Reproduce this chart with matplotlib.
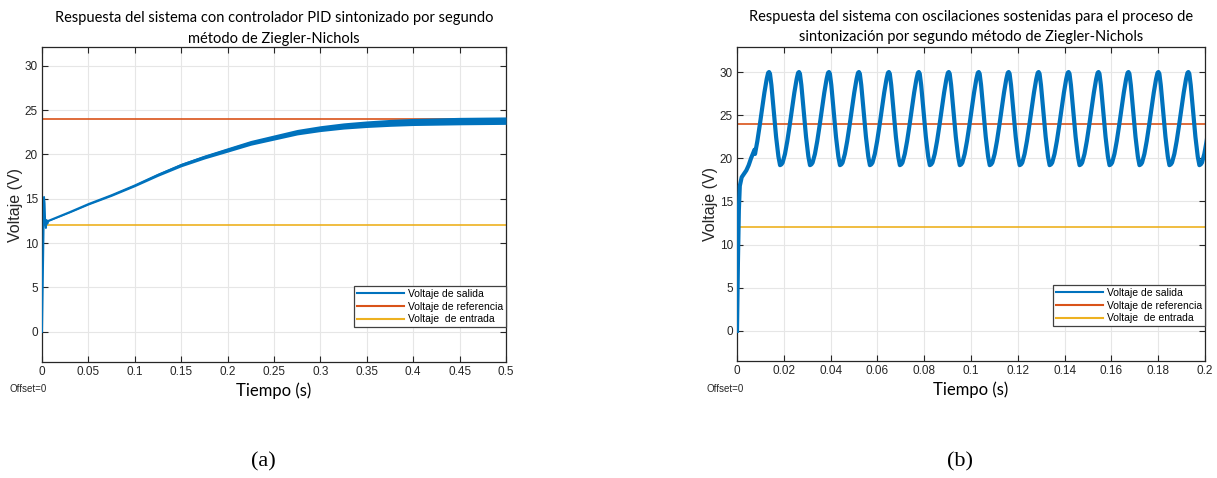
import numpy as np
import matplotlib
matplotlib.use("Agg")
import matplotlib.pyplot as plt

# ---- data ----
# (a) PID response, 0..0.5 s
t_a = [0, 0.0012, 0.0022, 0.0028, 0.0034, 0.0042, 0.0050, 0.0058, 0.0066, 0.03,
       0.05, 0.075, 0.1, 0.125, 0.15, 0.175, 0.2, 0.225, 0.25, 0.275, 0.3,
       0.325, 0.35, 0.375, 0.4, 0.45, 0.5]
v_a = [0, 8, 15.2, 14.5, 12.5, 11.7, 12.6, 12.2, 12.5, 13.5,
       14.4, 15.4, 16.5, 17.7, 18.8, 19.7, 20.5, 21.3, 21.9, 22.5, 22.9,
       23.2, 23.4, 23.55, 23.65, 23.75, 23.8]
ripple_a = [0, 0, 0, 0, 0, 0, 0, 0.04, 0.06, 0.08,
            0.1, 0.12, 0.14, 0.17, 0.2, 0.22, 0.25, 0.27, 0.29, 0.31, 0.33,
            0.35, 0.37, 0.39, 0.4, 0.42, 0.42]

# (b) sustained oscillations, 0..0.2 s
t_b_start = [0, 0.0004, 0.0008, 0.0012, 0.002, 0.003, 0.004, 0.005, 0.006, 0.0075]
v_b_start = [0, 8, 14, 16.8, 17.8, 18.2, 18.6, 19.2, 20.0, 21.0]
peak_times = [0.0137, 0.0265, 0.0393, 0.0521, 0.0649, 0.0777, 0.0905, 0.1033,
              0.1161, 0.1289, 0.1417, 0.1545, 0.1673, 0.1801, 0.1929, 0.2057]
# one cycle, offsets from a peak (s) and voltage
cyc_off = [-0.0070, -0.0060, -0.0050, -0.0040, -0.0030, -0.0020, -0.0010, -0.0004,
           0.0, 0.0004, 0.0010, 0.0020, 0.0030, 0.0040, 0.0047, 0.0053]
cyc_v = [19.5, 20.5, 22.0, 23.8, 25.7, 27.6, 29.2, 29.9,
         30.0, 29.8, 28.5, 25.5, 22.5, 20.2, 19.2, 19.3]

v_ref = 24
v_in = 12

blue = "#0072BD"
orange = "#D95319"
yellow = "#EDB120"
dark = "#262626"

plt.rcParams['font.family'] = ['Liberation Sans', 'DejaVu Sans']
calibri_like = ["Lato", "DejaVu Sans"]

fig = plt.figure(figsize=(12.17, 4.78), dpi=100)
W, H = 1217, 478


def make_axes(x0, x1, y0, y1):
    return fig.add_axes([x0 / W, 1 - y1 / H, (x1 - x0) / W, (y1 - y0) / H])


def style(ax, xlim, ylim, xticks, xlabels, ypad):
    ax.set_xlim(*xlim)
    ax.set_ylim(*ylim)
    ax.set_xticks(xticks)
    ax.set_xticklabels(xlabels)
    ax.set_yticks([0, 5, 10, 15, 20, 25, 30])
    ax.grid(True, color="#e6e6e6", lw=0.8)
    ax.set_axisbelow(True)
    ax.tick_params(direction="in", top=True, right=True, length=4,
                   labelsize=8.5, colors=dark, pad=3)
    for s in ax.spines.values():
        s.set_color(dark)
        s.set_linewidth(0.9)
    ax.set_ylabel("Voltaje (V)", fontsize=11.5, labelpad=ypad, color=dark)
    ax.set_xlabel("Tiempo (s)", family=calibri_like, fontsize=12, labelpad=3)
    leg = ax.legend(loc="lower right", fontsize=7.5, fancybox=False, edgecolor="#404040",
                    framealpha=1, handlelength=4.5, borderaxespad=0.0,
                    bbox_to_anchor=(1.0, 0.11), borderpad=0.3, labelspacing=0.25,
                    handletextpad=0.4)
    leg.get_frame().set_linewidth(0.9)
    for line in leg.get_lines():
        line.set_linewidth(1.5)


# ---- (a) ----
ax1 = make_axes(42, 506, 47, 362)
ta = np.array(t_a)
va = np.array(v_a)
ra = np.array(ripple_a)
ax1.fill_between(ta, va - ra, va + ra, color=blue, lw=0, zorder=3)
ax1.plot(ta, va, color=blue, lw=1.4, label="Voltaje de salida", zorder=3)
ax1.axhline(v_ref, color=orange, lw=1.2, label="Voltaje de referencia", zorder=2)
ax1.axhline(v_in, color=yellow, lw=1.2, label="Voltaje  de entrada", zorder=2)
style(ax1, (0, 0.5), (-3.4, 32.1),
      [0, 0.05, 0.1, 0.15, 0.2, 0.25, 0.3, 0.35, 0.4, 0.45, 0.5],
      ["0", "0.05", "0.1", "0.15", "0.2", "0.25", "0.3", "0.35", "0.4", "0.45", "0.5"],
      1)
ax1.set_title("Respuesta del sistema con controlador PID sintonizado por segundo\n"
              "método de Ziegler-Nichols", family=calibri_like,
              fontsize=10.5, pad=3, linespacing=1.6)

# ---- (b) ----
tb = list(t_b_start)
vb = list(v_b_start)
for p in peak_times:
    for off, v in zip(cyc_off, cyc_v):
        t = p + off
        if t > tb[-1]:
            tb.append(t)
            vb.append(v)
ax2 = make_axes(737, 1205, 47, 361)
ax2.plot(tb, vb, color=blue, lw=3.0, label="Voltaje de salida", zorder=3,
         solid_joinstyle="round")
ax2.axhline(v_ref, color=orange, lw=1.2, label="Voltaje de referencia", zorder=2)
ax2.axhline(v_in, color=yellow, lw=1.2, label="Voltaje  de entrada", zorder=2)
style(ax2, (0, 0.2), (-3.5, 32.9),
      [0, 0.02, 0.04, 0.06, 0.08, 0.1, 0.12, 0.14, 0.16, 0.18, 0.2],
      ["0", "0.02", "0.04", "0.06", "0.08", "0.1", "0.12", "0.14", "0.16", "0.18", "0.2"],
      1)
ax2.set_title("Respuesta del sistema con oscilaciones sostenidas para el proceso de\n"
              "sintonización por segundo método de Ziegler-Nichols",
              family=calibri_like, fontsize=10.5, pad=4, linespacing=1.6)

# offset notes and panel letters
fig.text(10 / W, 1 - 389 / H, "Offset=0", fontsize=7, color=dark, va="center")
fig.text(707 / W, 1 - 389 / H, "Offset=0", fontsize=7, color=dark, va="center")
fig.text(263 / W, 1 - 462 / H, "(a)", family=["Liberation Serif", "DejaVu Serif"],
         fontsize=16, ha="center", va="center")
fig.text(960 / W, 1 - 462 / H, "(b)", family=["Liberation Serif", "DejaVu Serif"],
         fontsize=16, ha="center", va="center")

fig.savefig("out.png", dpi=100)
